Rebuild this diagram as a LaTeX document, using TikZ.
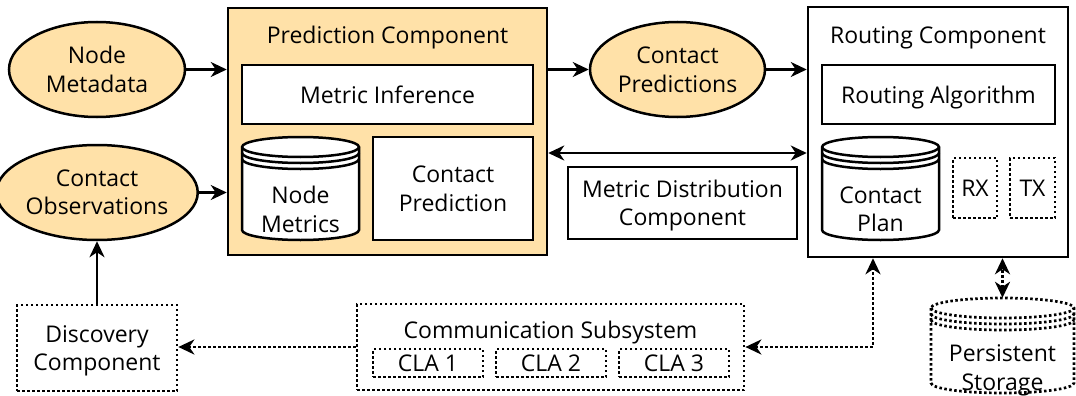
\documentclass[tikz,border=0pt]{standalone}
\usepackage{fontspec}
\setmainfont{Open Sans}
\usetikzlibrary{shapes.geometric,arrows.meta,calc}
\definecolor{pfill}{RGB}{255,225,168}
\newcommand\nd[1]{\raisebox{0pt}[\height][0pt]{#1}}
\newcommand\dbcyl[6]{%
  \pgfmathsetmacro\dbrx{(#4-#2)/2}%
  \pgfmathsetmacro\dbw{#4-#2}%
  \pgfmathsetmacro\dbh{#5-#3}%
  \path[#6] (#2,#3+10) -- (#2,#5-10) arc[start angle=180,end angle=360,x radius=\dbrx pt,y radius=10pt] -- (#4,#3+10) arc[start angle=0,end angle=180,x radius=\dbrx pt,y radius=10pt] -- cycle;
  \foreach \k in {10,16,22} {\path[#6,fill=none] (#2,#3+\k) arc[start angle=180,end angle=360,x radius=\dbrx pt,y radius=10pt];}
  \node[inner sep=0pt,minimum width=\dbw pt,minimum height=\dbh pt] (#1) at ({(#2+#4)/2},{(#3+#5)/2}) {};
}
\begin{document}
\begin{tikzpicture}[x=1pt,y=-1pt,font=\fontsize{23pt}{28.5pt}\selectfont,
  box/.style={draw,line width=2.5pt,rectangle,inner sep=0pt,align=center},
  ell/.style={draw,line width=2.5pt,ellipse,fill=pfill,inner sep=0pt,align=center,minimum width=176pt,minimum height=95pt},
  dotpat/.style={line width=2.7pt,dash pattern=on 2.5pt off 2.5pt},
  dotbox/.style={draw,dotpat,rectangle,inner sep=0pt,align=center},
  cylsolid/.style={draw,line width=2.5pt,fill=white},
  cyldot/.style={draw,dotpat,fill=white},
  label/.style={inner sep=0pt,align=center},
  tip/.tip={Stealth[length=16pt,width=15pt,inset=5pt]},
  arr/.style={line width=2.5pt,-tip},
  arrb/.style={line width=2.5pt,tip-tip},
  darr/.style={dotpat,-tip},
  darrb/.style={dotpat,tip-tip}]
\useasboundingbox (0,0) rectangle (1076,396);
% left ellipses
\node[ell] (meta) at (97,69.5) {Node\\Metadata};
\node[ell] (obs) at (97,192.5) {Contact\\Observations};
% prediction component
\node[box,fill=pfill,minimum width=319pt,minimum height=247pt] (pred) at (387.5,131.5) {};
\node[label] (predt) at (387.5,35) {Prediction Com\nd{p}onent};
\node[box,fill=white,minimum width=291pt,minimum height=59pt] (mi) at (387.5,94.5) {Metric Inference};
\dbcyl{nm}{242}{137}{359}{240}{cylsolid}
\node[label] (nmt) at (300.5,209.5) {Node\\Metrics};
\node[box,fill=white,minimum width=160pt,minimum height=103pt] (cp) at (453,188.5) {Contact\\\nd{Prediction}};
% contact predictions
\node[ell,minimum width=175pt] (cpred) at (677.5,69.5) {Contact\\\nd{Predictions}};
\node[box,minimum width=229pt,minimum height=72pt] (mdc) at (682.5,203) {Metric Distribution\\\nd{Component}};
% routing component
\node[box,minimum width=260pt,minimum height=250pt] (rout) at (938,132) {};
\node[label] (routt) at (938,35) {\nd{Routing Component}};
\node[box,minimum width=233pt,minimum height=59pt] (ra) at (938.5,94.5) {\nd{Routing Algorithm}};
\dbcyl{cplan}{822}{137}{939}{240}{cylsolid}
\node[label] (cplant) at (880.5,209.5) {Contact\\Plan};
\node[dotbox,minimum width=44pt,minimum height=60pt] (rx) at (975,188) {RX};
\node[dotbox,minimum width=45pt,minimum height=60pt] (tx) at (1032.5,188) {TX};
% bottom row
\node[dotbox,minimum width=160pt,minimum height=86pt] (disc) at (97,348) {Discovery\\\nd{Component}};
\node[dotbox,minimum width=387pt,minimum height=86pt] (comm) at (550.5,347) {};
\node[label] (commt) at (550.5,329.5) {\nd{Communication Subsystem}};
\node[dotbox,minimum width=110pt,minimum height=28pt] (cla1) at (428,363) {CLA 1};
\node[dotbox,minimum width=110pt,minimum height=28pt] (cla2) at (551,363) {CLA 2};
\node[dotbox,minimum width=110pt,minimum height=28pt] (cla3) at (674,363) {CLA 3};
\dbcyl{ps}{931}{298}{1074}{393}{cyldot}
\node[label] (pst) at (1002.5,367.5) {Persistent\\\nd{Storage}};
% connectors
\draw[arr] (meta.east) -- (meta.east -| pred.west);
\draw[arr] (obs.east) -- (obs.east -| pred.west);
\draw[arr] (cpred.west -| pred.east) -- (cpred.west);
\draw[arr] (cpred.east) -- (cpred.east -| rout.west);
\coordinate (bi) at (0,153);
\draw[arrb] (pred.east |- bi) -- (rout.west |- bi);
\draw[arr] (disc.north) -- (obs.south);
\draw[darr] (comm.west) -- (comm.west -| disc.east);
\coordinate (cr) at (873,0);
\draw[darrb] (comm.east) -| (cr |- rout.south);
\draw[darrb] (ps.north) -- (ps.north |- rout.south);
\end{tikzpicture}
\end{document}
